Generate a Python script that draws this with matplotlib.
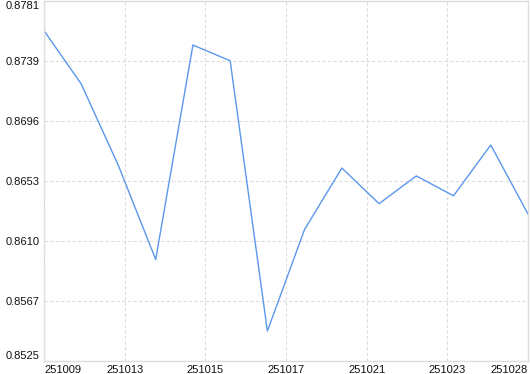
import numpy as np
import matplotlib
matplotlib.use("Agg")
import matplotlib.pyplot as plt

# ── Data ──────────────────────────────────────────────────────────
dates = ["251009", "251010", "251013", "251014", "251015", "251016", "251017",
         "251020", "251021", "251022", "251023", "251024", "251027", "251028"]
values = [0.87599, 0.87220, 0.86639, 0.85972, 0.87497, 0.87385, 0.85463,
          0.86186, 0.86622, 0.86369, 0.86566, 0.86425, 0.86786, 0.86295]
y_labels = ["0.8525", "0.8567", "0.8610", "0.8653", "0.8696", "0.8739", "0.8781"]
y_min, y_max = 0.8525, 0.8781

# ── Plot ──────────────────────────────────────────────────────────
plt.rcParams['font.family'] = ['Liberation Sans', 'DejaVu Sans']
fig = plt.figure(figsize=(5.30, 3.74), dpi=100)
ax = fig.add_axes([44/530, 13/374, 484/530, 360/374])

x = np.arange(len(dates))
ax.plot(x, values, color="#5b97ea", linewidth=1.0)

ax.set_xlim(0, len(dates) - 1)
ax.set_ylim(y_min, y_max)

# evenly spaced ticks, labelled with the category at or before each tick
xt = np.linspace(0, len(dates) - 1, 7)
ax.set_xticks(xt)
ax.set_xticklabels([dates[int(np.floor(t + 1e-9))] for t in xt])
ax.set_yticks(np.linspace(y_min, y_max, len(y_labels)))
ax.set_yticklabels(y_labels)

ax.tick_params(length=0, labelsize=8, colors="#111111", pad=3)
xl = ax.get_xticklabels()
xl[0].set_horizontalalignment("left")
xl[-1].set_horizontalalignment("right")
yl = ax.get_yticklabels()
yl[0].set_verticalalignment("bottom")
yl[-1].set_verticalalignment("top")

ax.grid(True, color="#dcdcdc", linestyle=(0, (3, 2)), linewidth=0.8)
for s in ax.spines.values():
    s.set_color("#dddddd")
    s.set_linewidth(1.0)

plt.savefig("out.png", dpi=100)
plt.close()
